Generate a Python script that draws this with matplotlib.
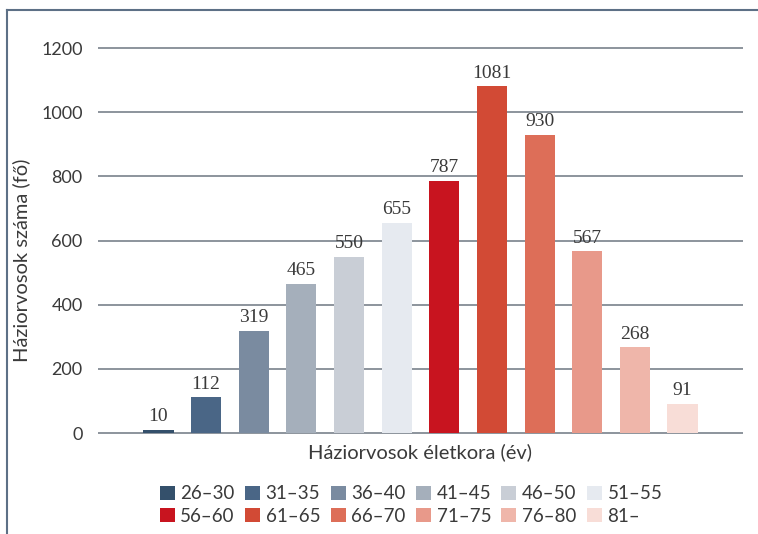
import matplotlib.pyplot as plt
import numpy as np
from matplotlib.patches import Patch
from matplotlib.lines import Line2D

plt.rcParams["font.family"] = ["Lato", "DejaVu Sans"]

# Data
age_groups = ["26–30", "31–35", "36–40", "41–45", "46–50", "51–55",
              "56–60", "61–65", "66–70", "71–75", "76–80", "81–"]
counts = [10, 112, 319, 465, 550, 655, 787, 1081, 930, 567, 268, 91]
colors = ["#34506b", "#4a6686", "#7a8ba0", "#a5afbb", "#c9ced6", "#e6eaf0",
          "#c8141f", "#d24a35", "#dd6e58", "#e8998a", "#efb6aa", "#f8ddd7"]
yticks = [0, 200, 400, 600, 800, 1000, 1200]

fig = plt.figure(figsize=(7.58, 5.34), dpi=100)
W, H = 758, 534
ymin, ymax = -15, 1215
px_per = 385 / 1200
bottom_px = 433 + (0 - ymin) * px_per
top_px = 48 - (ymax - 1200) * px_per
ax = fig.add_axes([98 / W, 1 - bottom_px / H, (743 - 98) / W, (bottom_px - top_px) / H])

x = np.arange(len(counts))
bars = ax.bar(x, counts, width=0.63, color=colors, zorder=3)

for yt in yticks:
    ax.axhline(yt, color="#8c949c", lw=1.4, zorder=1)

# value labels above the bars
for xi, v in zip(x, counts):
    ax.text(xi, v + 14, str(v), ha="center", va="bottom", fontsize=14,
            family="Liberation Serif", color="#3a3a3a")

ax.set_xlim(-1.27, 12.27)
ax.set_ylim(ymin, ymax)
ax.set_xticks([])
ax.set_yticks(yticks)
ax.tick_params(axis="y", length=0, pad=11, labelsize=13, labelcolor="#3a3a3a")
for s in ax.spines.values():
    s.set_visible(False)

ax.set_ylabel("Háziorvosok száma (fő)", fontsize=14.5, color="#3a3a3a")
ax.yaxis.set_label_coords(-0.105, 0.45)
ax.set_xlabel("Háziorvosok életkora (év)", fontsize=14.5, color="#3a3a3a", labelpad=4)

# legend: two rows of six
handles = [Patch(facecolor=c, edgecolor="none") for c in colors]
order = []
for i in range(6):
    order += [i, i + 6]
fig.legend([handles[i] for i in order], [age_groups[i] for i in order],
           ncol=6, loc="center", bbox_to_anchor=(411 / W, 1 - 505 / H),
           frameon=False, fontsize=13.5, handlelength=0.8, handleheight=0.8,
           handletextpad=0.3, columnspacing=0.55, labelspacing=0.3,
           labelcolor="#3a3a3a")

# outer frame lines
fig.add_artist(Line2D([7 / W, 7 / W], [0, 1 - 10 / H], color="#5d7086", lw=1.5))
fig.add_artist(Line2D([7 / W, 1], [1 - 10 / H, 1 - 10 / H], color="#5d7086", lw=1.5))

plt.savefig("out.png", dpi=100)
plt.close()
